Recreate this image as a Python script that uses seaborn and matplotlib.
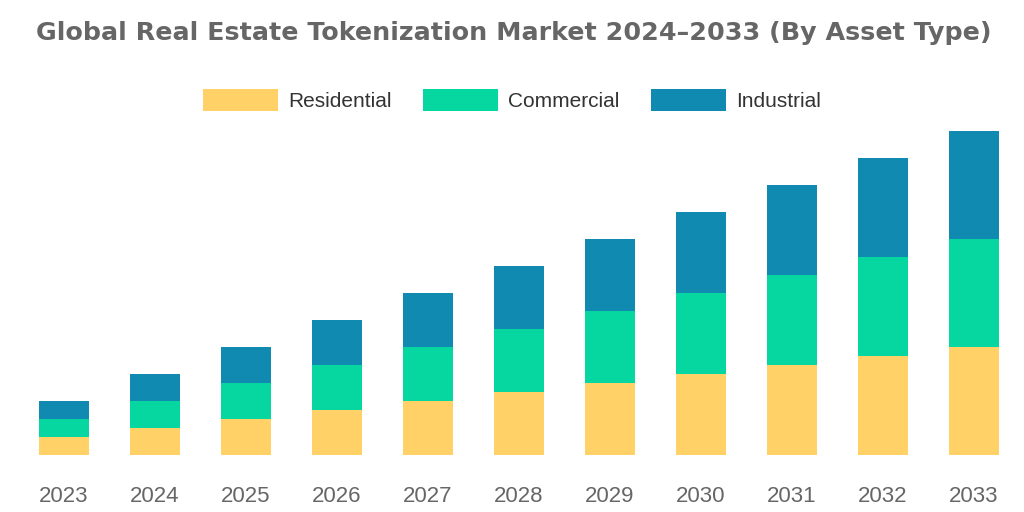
import numpy as np
import pandas as pd
import matplotlib
matplotlib.use('Agg')
import matplotlib.pyplot as plt
from matplotlib.patches import Patch
import seaborn as sns

# Datos (alturas relativas de cada segmento)
years = ['2023', '2024', '2025', '2026', '2027', '2028', '2029', '2030', '2031', '2032', '2033']
residential = [18, 27, 36, 45, 54, 63, 72, 81, 90, 99, 108]
commercial = [18, 27, 36, 45, 54, 63, 72, 81, 90, 99, 108]
industrial = [18, 27, 36, 45, 54, 63, 72, 81, 90, 99, 108]

labels = ['Residential', 'Commercial', 'Industrial']
colors = ['#FFD166', '#06D6A0', '#118AB2']

df = pd.DataFrame({'year': years, 'Residential': residential,
                   'Commercial': commercial, 'Industrial': industrial})
df['c1'] = df['Residential']
df['c2'] = df['c1'] + df['Commercial']
df['c3'] = df['c2'] + df['Industrial']

sns.set_theme(style='white')
plt.rcParams['font.family'] = ['Liberation Sans', 'DejaVu Sans']

fig = plt.figure(figsize=(10.24, 5.12), dpi=100)
ax = fig.add_axes([18.5 / 1024, 57 / 512, 1001 / 1024, 335 / 512])

# Barras apiladas: dibujar del total hacia abajo
for col, color in zip(['c3', 'c2', 'c1'], colors[::-1]):
    sns.barplot(data=df, x='year', y=col, color=color, width=0.55,
                saturation=1, linewidth=0, ax=ax)

ax.set_xlim(-0.5, len(years) - 0.5)
ax.set_ylim(0, 335)
ax.set_xlabel('')
ax.set_ylabel('')
ax.set_yticks([])
for s in ax.spines.values():
    s.set_visible(False)
ax.tick_params(axis='x', length=0, pad=22, labelsize=16, labelcolor='#666666')

fig.suptitle('Global Real Estate Tokenization Market 2024\u20132033 (By Asset Type)',
             x=0.502, y=1 - 33 / 512, va='center', fontsize=18.3, fontweight='bold',
             color='#666666', family=['DejaVu Sans'])

handles = [Patch(facecolor=c, edgecolor='none', label=l) for l, c in zip(labels, colors)]
fig.legend(handles=handles, loc='center', bbox_to_anchor=(0.5, 1 - 100 / 512), ncol=3,
           frameon=False, fontsize=15, handlelength=3.6, handleheight=1.2,
           handletextpad=0.5, columnspacing=1.5, labelcolor='#333333')

fig.savefig('out.png', dpi=100)
